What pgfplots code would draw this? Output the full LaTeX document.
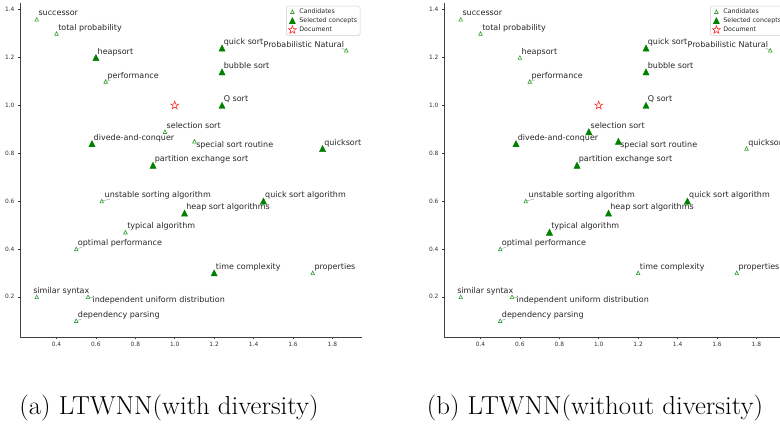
\documentclass[border=0pt]{standalone}
\usepackage{fontspec}
\usepackage{pgfplots}
\usepackage{pgfplotstable}
\pgfplotsset{compat=1.18}
\newfontfamily\dejavu{DejaVu Sans}
\definecolor{cand}{HTML}{2CA02C}
\definecolor{sel}{HTML}{008000}
\definecolor{docred}{HTML}{FF3030}
\definecolor{txt}{HTML}{262626}

\pgfdeclareplotmark{mtri}{%
  \pgfpathmoveto{\pgfqpoint{0pt}{\pgfplotmarksize}}%
  \pgfpathlineto{\pgfqpoint{-\pgfplotmarksize}{-\pgfplotmarksize}}%
  \pgfpathlineto{\pgfqpoint{\pgfplotmarksize}{-\pgfplotmarksize}}%
  \pgfpathclose\pgfusepathqstroke}
\pgfdeclareplotmark{mtrif}{%
  \pgfpathmoveto{\pgfqpoint{0pt}{\pgfplotmarksize}}%
  \pgfpathlineto{\pgfqpoint{-\pgfplotmarksize}{-\pgfplotmarksize}}%
  \pgfpathlineto{\pgfqpoint{\pgfplotmarksize}{-\pgfplotmarksize}}%
  \pgfpathclose\pgfusepathqfillstroke}
\pgfdeclareplotmark{hstar}{%
  \pgfpathmoveto{\pgfpointpolar{90}{\pgfplotmarksize}}%
  \pgfpathlineto{\pgfpointpolar{126}{0.4\pgfplotmarksize}}%
  \pgfpathlineto{\pgfpointpolar{162}{\pgfplotmarksize}}%
  \pgfpathlineto{\pgfpointpolar{198}{0.4\pgfplotmarksize}}%
  \pgfpathlineto{\pgfpointpolar{234}{\pgfplotmarksize}}%
  \pgfpathlineto{\pgfpointpolar{270}{0.4\pgfplotmarksize}}%
  \pgfpathlineto{\pgfpointpolar{306}{\pgfplotmarksize}}%
  \pgfpathlineto{\pgfpointpolar{342}{0.4\pgfplotmarksize}}%
  \pgfpathlineto{\pgfpointpolar{18}{\pgfplotmarksize}}%
  \pgfpathlineto{\pgfpointpolar{54}{0.4\pgfplotmarksize}}%
  \pgfpathclose\pgfusepathqstroke}

% ---------- data ----------
\pgfplotstableread{
x y
0.30 1.36
0.40 1.30
0.65 1.10
0.95 0.89
1.10 0.85
1.87 1.23
1.70 0.30
0.63 0.60
0.75 0.47
0.50 0.40
0.30 0.20
0.56 0.20
0.50 0.10
}\candA
\pgfplotstableread{
x y
0.60 1.20
0.58 0.84
0.89 0.75
1.24 1.24
1.24 1.14
1.24 1.00
1.75 0.82
1.45 0.60
1.05 0.55
1.20 0.30
}\selA
\pgfplotstableread{
x y
0.30 1.36
0.40 1.30
0.60 1.20
0.65 1.10
1.87 1.23
1.75 0.82
1.20 0.30
1.70 0.30
0.63 0.60
0.50 0.40
0.30 0.20
0.56 0.20
0.50 0.10
}\candB
\pgfplotstableread{
x y
0.95 0.89
0.58 0.84
1.10 0.85
0.89 0.75
1.24 1.24
1.24 1.14
1.24 1.00
1.45 0.60
1.05 0.55
0.75 0.47
}\selB
\pgfplotstableread{
x y
1.00 1.00
}\docpt

\tikzset{
  lblbase/.style={inner sep=0pt, font=\dejavu\fontsize{8}{9.6}\selectfont, text=txt},
  lbl/.style={lblbase, anchor=base west, xshift=1.6pt, yshift=3.4pt},
  leader/.style={draw=black!45, line width=0.35pt},
}

\newcommand{\pointlabels}{%
  \node[lbl] at (axis cs:0.30,1.36) {successor};
  \node[lbl] at (axis cs:0.40,1.30) {total probability};
  \node[lbl] at (axis cs:0.60,1.20) {heapsort};
  \node[lbl] at (axis cs:0.65,1.10) {performance};
  \node[lbl] at (axis cs:0.95,0.89) {selection sort};
  \node[lbl] at (axis cs:0.58,0.84) {divede-and-conquer};
  \node[lblbase, anchor=base west, xshift=1.6pt, yshift=-6.4pt] at (axis cs:1.10,0.85) {special sort routine};
  \node[lbl] at (axis cs:0.89,0.75) {partition exchange sort};
  \node[lbl] at (axis cs:1.24,1.24) {quick sort};
  \node[lblbase, anchor=base east, xshift=-2pt, yshift=3.3pt] at (axis cs:1.87,1.23) {Probabilistic Natural};
  \node[lbl] at (axis cs:1.24,1.14) {bubble sort};
  \node[lbl] at (axis cs:1.24,1.00) {Q sort};
  \node[lbl] at (axis cs:1.75,0.82) {quicksort};
  \node[lbl] at (axis cs:1.45,0.60) {quick sort algorithm};
  \node[lbl] at (axis cs:1.05,0.55) {heap sort algorithms};
  \node[lbl] at (axis cs:1.20,0.30) {time complexity};
  \node[lbl] at (axis cs:1.70,0.30) {properties};
  \node[lblbase, anchor=base west, xshift=2.7pt, yshift=3.3pt] at (axis cs:0.63,0.60) {unstable sorting algorithm};
  \node[lbl] at (axis cs:0.75,0.47) {typical algorithm};
  \node[lbl] at (axis cs:0.50,0.40) {optimal performance};
  \node[lblbase, anchor=base west, xshift=-3.7pt, yshift=3.4pt] at (axis cs:0.30,0.20) {similar syntax};
  \node[lblbase, anchor=base west, xshift=4.4pt, yshift=-5.7pt] at (axis cs:0.56,0.20) {independent uniform distribution};
  \node[lbl] at (axis cs:0.50,0.10) {dependency parsing};
  \draw[leader] (axis cs:0.65,1.10) ++(1.2pt,0.4pt) -- ++(4pt,1.2pt);
  \draw[leader] (axis cs:0.63,0.60) ++(1.2pt,0.4pt) -- ++(7pt,1.6pt);
  \draw[leader] (axis cs:0.50,0.40) ++(1.2pt,0.4pt) -- ++(4.5pt,1.2pt);
  \draw[leader] (axis cs:0.50,0.10) ++(1.2pt,0.4pt) -- ++(4pt,1pt);
  \draw[leader] (axis cs:0.56,0.20) ++(1.2pt,0pt) -- ++(4.5pt,-1.2pt);
  \draw[leader] (axis cs:1.87,1.23) ++(-1.2pt,0.4pt) -- ++(-3.5pt,2pt);
}

\pgfplotsset{
  myaxis/.style={
    scale only axis, width=342pt, height=334pt,
    xmin=0.215, xmax=1.95, ymin=0.032, ymax=1.428,
    axis x line=bottom, axis y line=left,
    axis line style={-, black!75, line width=0.6pt},
    tick align=outside, major tick length=2pt,
    tick style={black!75, line width=0.5pt},
    xtick={0.4,0.6,0.8,1.0,1.2,1.4,1.6,1.8},
    ytick={0.2,0.4,0.6,0.8,1.0,1.2,1.4},
    tick label style={font=\dejavu\fontsize{5.9}{7}\selectfont, text=black!80,
      /pgf/number format/assume math mode=true,
      /pgf/number format/fixed, /pgf/number format/fixed zerofill,
      /pgf/number format/precision=1},
    clip=false,
    legend cell align=left,
    legend image code/.code={\draw[mark repeat=2, mark phase=2, ##1] plot coordinates {(0pt,0pt) (6.5pt,0pt) (13pt,0pt)};},
    legend style={at={(rel axis cs:1,1)}, anchor=north east, xshift=-1.7pt, yshift=-3pt,
      draw=black!20, fill=white, rounded corners=1.5pt,
      font=\dejavu\fontsize{6.3}{7.2}\selectfont, text=txt,
      inner xsep=2pt, inner ysep=1.5pt, row sep=1pt,
      nodes={inner sep=1pt, text height=4.6pt, text depth=1.4pt},
      /tikz/every odd column/.append style={column sep=2pt}},
  },
  candst/.style={only marks, mark=mtri, mark size=1.8pt, mark options={draw=cand, line width=0.6pt, sharp corners}},
  selst/.style={only marks, mark=mtrif, mark size=3.1pt, mark options={draw=sel, fill=sel, line width=0.4pt, sharp corners}},
  docst/.style={only marks, mark=hstar, mark size=4.2pt, mark options={draw=docred, line width=0.6pt, sharp corners}},
}

\begin{document}
\begin{tikzpicture}
\begin{axis}[myaxis, at={(20pt,92pt)}, anchor=south west]
  \addplot[candst] table {\candA};
  \addlegendentry{Candidates}
  \addplot[selst] table {\selA};
  \addlegendentry{Selected concepts}
  \addplot[docst] table {\docpt};
  \addlegendentry{Document}
  \pointlabels
\end{axis}
\begin{axis}[myaxis, at={(444pt,92pt)}, anchor=south west]
  \addplot[candst] table {\candB};
  \addlegendentry{Candidates}
  \addplot[selst] table {\selB};
  \addlegendentry{Selected concepts}
  \addplot[docst] table {\docpt};
  \addlegendentry{Document}
  \pointlabels
\end{axis}
\node[font=\fontsize{26}{31}\selectfont, anchor=base, inner sep=0pt, xscale=1.03] at (169pt,15pt) {(a) LTWNN(with diversity)};
\node[font=\fontsize{26}{31}\selectfont, anchor=base, inner sep=0pt, xscale=1.03] at (595pt,15pt) {(b) LTWNN(without diversity)};
\pgfresetboundingbox
\path[use as bounding box] (0pt,0pt) rectangle (780pt,429pt);
\end{tikzpicture}
\end{document}
